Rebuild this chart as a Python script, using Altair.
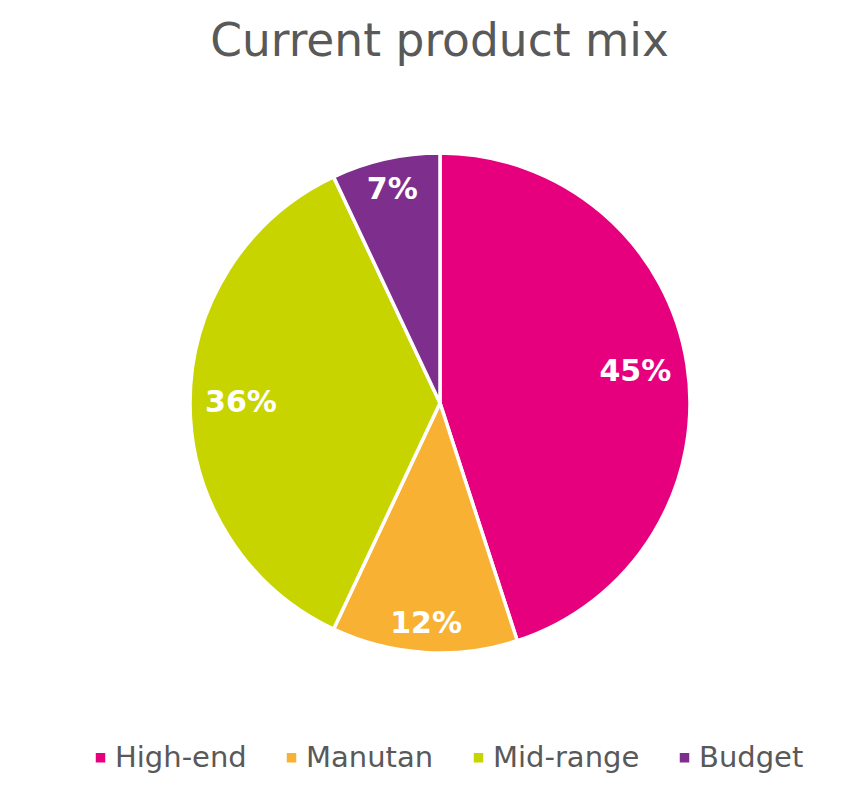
import altair as alt
import pandas as pd

categories = ["High-end", "Manutan", "Mid-range", "Budget"]
values = [45, 12, 36, 7]
colors = ["#E6007E", "#F8B133", "#C8D400", "#7E2E8C"]

df = pd.DataFrame({
    "category": categories,
    "value": values,
    "idx": list(range(len(categories))),
    "label": [f"{v}%" for v in values],
})

CX, CY, R = 432, 324, 250
LABEL_FS = 30

arcs = alt.Chart(df).mark_arc(outerRadius=R, stroke="white", strokeWidth=3.5).encode(
    theta=alt.Theta("value:Q", stack=True),
    order=alt.Order("idx:Q", sort="ascending"),
    x=alt.value(CX),
    y=alt.value(CY),
    color=alt.Color(
        "category:N",
        scale=alt.Scale(domain=categories, range=colors),
        legend=alt.Legend(
            orient="none",
            direction="horizontal",
            legendX=78,
            legendY=664,
            title=None,
            symbolType="square",
            symbolSize=90,
            symbolStrokeWidth=0,
            labelFontSize=29,
            labelColor="#595959",
            labelFont="DejaVu Sans",
            labelOffset=0,
            columnPadding=30,
            padding=0,
        ),
    ),
)

# labels placed "inside end": box corner kept just inside the rim
labels = (
    alt.Chart(df)
    .transform_window(cum="sum(value)", sort=[{"field": "idx"}], frame=[None, 0])
    .transform_joinaggregate(total="sum(value)")
    .transform_calculate(
        mid="(datum.cum - datum.value / 2) / datum.total * 2 * PI",
        hw=f"0.5 * (0.696 * (length(datum.label) - 1) + 1.002) * {LABEL_FS}",
    )
    .transform_calculate(
        r=f"{R} - 15 - abs(sin(datum.mid)) * datum.hw - abs(cos(datum.mid)) * 11"
    )
    .mark_text(
        fontSize=LABEL_FS,
        fontWeight="bold",
        color="white",
        font="DejaVu Sans",
        align="center",
        baseline="middle",
    )
    .encode(
        theta=alt.Theta("mid:Q", scale=None),
        radius=alt.Radius("r:Q", scale=None),
        x=alt.value(CX),
        y=alt.value(CY),
        text="label:N",
    )
)

chart = (
    alt.layer(arcs, labels)
    .properties(
        width=847,
        height=690,
        padding={"left": 0, "right": 0, "top": 11, "bottom": 0},
        title=alt.TitleParams(
            "Current product mix",
            fontSize=45.5,
            font="DejaVu Sans",
            fontWeight="normal",
            color="#595959",
            anchor="middle",
            dx=8,
            offset=14,
        ),
    )
    .configure_view(stroke=None)
)

chart.save("out.html", embed_options={"renderer": "svg", "actions": False})
